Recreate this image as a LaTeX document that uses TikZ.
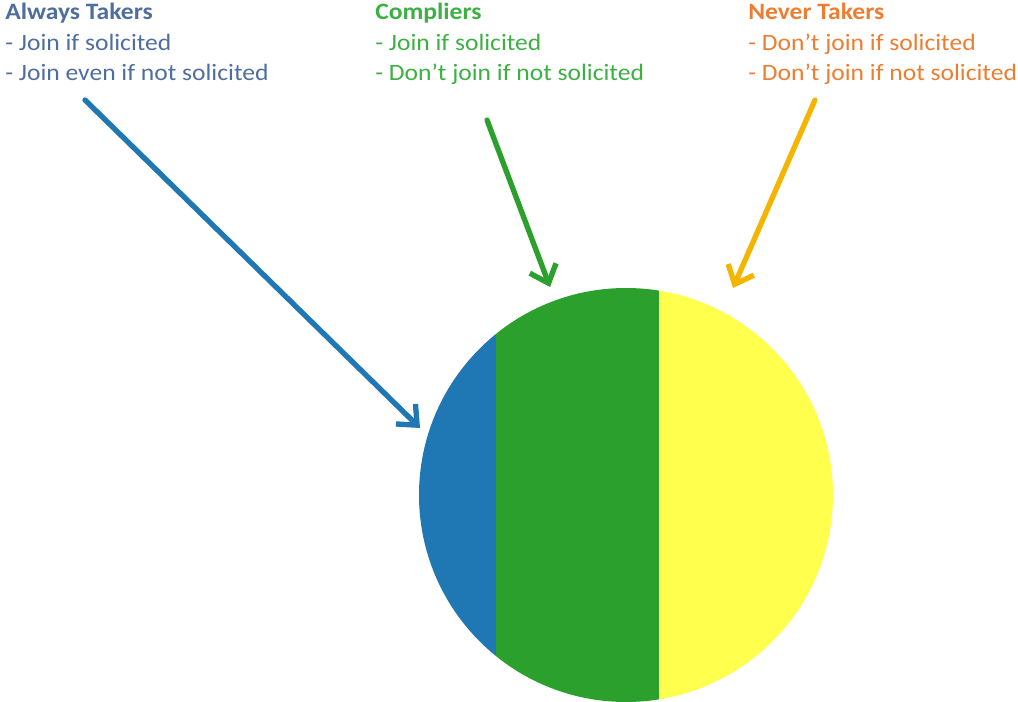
\documentclass[tikz,border=0pt]{standalone}
\usepackage{fontspec}
\setmainfont{Carlito}[FakeStretch=1.09]
\usetikzlibrary{arrows.meta}
\definecolor{takerblue}{RGB}{31,119,180}
\definecolor{complygreen}{RGB}{44,160,44}
\definecolor{neveryellow}{RGB}{255,255,77}
\definecolor{neverarrow}{RGB}{245,180,0}
\definecolor{alwaystext}{RGB}{79,110,160}
\definecolor{complytext}{RGB}{60,176,67}
\definecolor{nevertext}{RGB}{237,125,49}
\tikzset{
  group/.style   = {anchor=north west, align=left, inner sep=0pt, font=\fontsize{17.6}{22.8}\selectfont},
  pointer/.style = {-{Straight Barb[length=12pt,width=21pt,line width=4pt]}, line width=4pt, line cap=round},
}

\begin{document}
\begin{tikzpicture}[x=0.75pt, y=-0.75pt]
    \useasboundingbox (0,0) rectangle (1018,702);
    % ── The three groups ────────────────────────────────────────
    \node[group, text=alwaystext] (always) at (5,3)
      {\textbf{Always Takers}\\- Join if solicited\\- Join even if not solicited};
    \node[group, text=complytext] (comply) at (375,3)
      {\textbf{Compliers}\\- Join if solicited\\- Don’t join if not solicited};
    \node[group, text=nevertext] (never) at (748,3)
      {\textbf{Never Takers}\\- Don’t join if solicited\\- Don’t join if not solicited};

    % ── Population circle split in three ───────────────────────
    \node[circle, minimum size=310.5pt, inner sep=0pt] (pool) at (626,495) {};
    \begin{scope}
      \clip (pool.center) circle (155.25pt);
      \fill[takerblue]   (410,280) rectangle (496,710);
      \fill[complygreen] (496,280) rectangle (659,710);
      \fill[neveryellow] (659,280) rectangle (840,710);
    \end{scope}

    % ── Arrows ──────────────────────────────────────────────────
    \coordinate (alwaysStart) at (85,100);
    \coordinate (alwaysTip)   at (420,428);
    \coordinate (complyStart) at (487,120);
    \coordinate (complyTip)   at (550,287);
    \coordinate (neverStart)  at (815,100);
    \coordinate (neverTip)    at (733,288);
    \draw[pointer, takerblue]   (alwaysStart) -- (alwaysTip);
    \draw[pointer, complygreen] (complyStart) -- (complyTip);
    \draw[pointer, neverarrow]  (neverStart) -- (neverTip);
\end{tikzpicture}
\end{document}
